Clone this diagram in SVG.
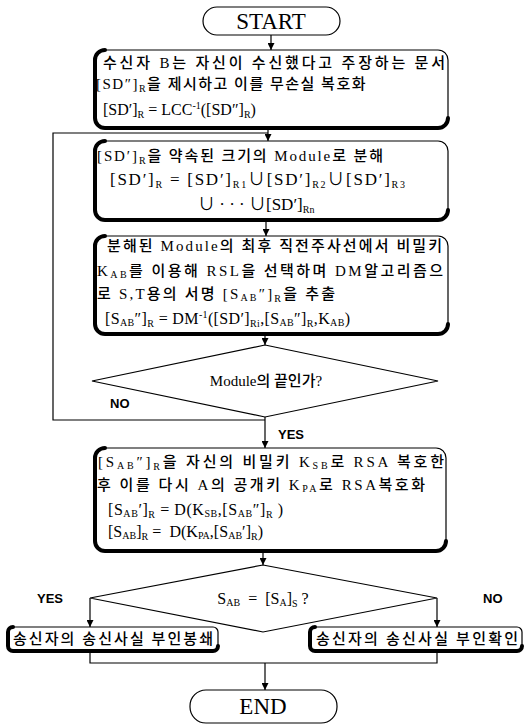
<svg xmlns="http://www.w3.org/2000/svg" width="531" height="726" viewBox="0 0 531 726">
<style>
.bx{fill:#fff;stroke:#000;stroke-width:1.2}
.th{fill:none;stroke:#000;stroke-width:4;stroke-linecap:round}
.t{font-family:"Liberation Serif","Noto Sans CJK KR",serif;font-size:15px;fill:#000}
.k{font-weight:500}
.f{font-size:16px}
.f2{font-size:17px}
.s{font-size:10px}
.c{text-anchor:middle}
.big{font-family:"Liberation Serif",serif;font-size:23px;text-anchor:middle}
.lb{font-family:"Liberation Sans",sans-serif;font-weight:bold;font-size:13px}
.ln{fill:none;stroke:#000;stroke-width:1.2}
</style>
<defs>
<marker id="a" viewBox="0 0 10 10" refX="10" refY="5" markerWidth="8" markerHeight="7" orient="auto" markerUnits="userSpaceOnUse"><path d="M0,0 L10,5 L0,10 z" fill="#000"/></marker>
</defs>

<g id="connectors" class="ln">
<path d="M271,35 V50" marker-end="url(#a)"/>
<path d="M268,128 V141" marker-end="url(#a)"/>
<path d="M265,420 H53 V133 H268"/>
<path d="M266,220 V236" marker-end="url(#a)"/>
<path d="M265,334 V345" marker-end="url(#a)"/>
<path d="M265,417 V448" marker-end="url(#a)"/>
<path d="M263,551 V565" marker-end="url(#a)"/>
<path d="M90,598 V627" marker-end="url(#a)"/>
<path d="M437,598 V627" marker-end="url(#a)"/>
<path d="M90,651 V663 H437 V651"/>
<path d="M265,663 V690" marker-end="url(#a)"/>
</g>

<g id="start">
<rect class="bx" x="203" y="7" width="137" height="28" rx="14"/>
<text class="big" x="271" y="29">START</text>
</g>

<g id="box1">
<rect class="bx" x="95" y="50" width="353" height="78" rx="10"/>
<path class="th" d="M105,50 A10,10 0 0 0 95,60 V118 A10,10 0 0 0 105,128 H438 A10,10 0 0 0 448,118"/>
<text class="t k" x="103" y="68" textLength="342">수신자 B는 자신이 수신했다고 주장하는 문서</text>
<text class="t k" x="96" y="89" letter-spacing="1.5">[SD″]<tspan class="s" dy="3">R</tspan><tspan dy="-3">을 제시하고 이를 무손실 복호화</tspan></text>
<text class="t f" x="103" y="115">[SD′]<tspan class="s" dy="3">R</tspan><tspan dy="-3">&#160;=&#160;LCC</tspan><tspan class="s" dy="-6">-1</tspan><tspan dy="6">([SD″]</tspan><tspan class="s" dy="3">R</tspan><tspan dy="-3">)</tspan></text>
</g>

<g id="box2">
<rect class="bx" x="95" y="141" width="353" height="79" rx="10"/>
<path class="th" d="M105,141 A10,10 0 0 0 95,151 V210 A10,10 0 0 0 105,220 H438 A10,10 0 0 0 448,210"/>
<text class="t k" x="97" y="161" textLength="286">[SD′]<tspan class="s" dy="3">R</tspan><tspan dy="-3">을 약속된 크기의 Module로 분해</tspan></text>
<text class="t f2" x="110" y="185" textLength="295">[SD′]<tspan class="s" dy="3">R</tspan><tspan dy="-3">&#160;=&#160;[SD′]</tspan><tspan class="s" dy="3">R1</tspan><tspan dy="-3">∪[SD′]</tspan><tspan class="s" dy="3">R2</tspan><tspan dy="-3">∪[SD′]</tspan><tspan class="s" dy="3">R3</tspan></text>
<text class="t f2" x="198" y="210">∪ · · · ∪[SD′]<tspan class="s" dy="3">Rn</tspan></text>
</g>

<g id="box3">
<rect class="bx" x="95" y="236" width="353" height="98" rx="10"/>
<path class="th" d="M105,236 A10,10 0 0 0 95,246 V324 A10,10 0 0 0 105,334 H438 A10,10 0 0 0 448,324"/>
<text class="t k" x="107" y="251" textLength="335">분해된 Module의 최후 직전주사선에서 비밀키</text>
<text class="t k" x="97" y="276" textLength="346">K<tspan class="s" dy="2">AB</tspan><tspan dy="-2">를 이용해 RSL을 선택하며 DM알고리즘으</tspan></text>
<text class="t k" x="97" y="299" textLength="238">로 S,T용의 서명 [S<tspan class="s" dy="2">AB</tspan><tspan dy="-2">″]</tspan><tspan class="s" dy="3">R</tspan><tspan dy="-3">을 추출</tspan></text>
<text class="t f" x="105" y="324" textLength="245">[S<tspan class="s" dy="2">AB</tspan><tspan dy="-2">″]</tspan><tspan class="s" dy="3">R</tspan><tspan dy="-3">&#160;=&#160;DM</tspan><tspan class="s" dy="-6">-1</tspan><tspan dy="6">([SD′]</tspan><tspan class="s" dy="3">Ri</tspan><tspan dy="-3">,[S</tspan><tspan class="s" dy="2">AB</tspan><tspan dy="-2">″]</tspan><tspan class="s" dy="3">R</tspan><tspan dy="-3">,K</tspan><tspan class="s" dy="2">AB</tspan><tspan dy="-2">)</tspan></text>
</g>

<g id="decision1">
<path class="bx" d="M265,345 L438,381 L265,417 L92,381 Z"/>
<text class="t k c" x="266" y="386">Module의 끝인가?</text>
<text class="lb" x="110" y="408">NO</text>
<text class="lb" x="278" y="439">YES</text>
</g>

<g id="box4">
<rect class="bx" x="95" y="448" width="351" height="103" rx="10"/>
<path class="th" d="M105,448 A10,10 0 0 0 95,458 V541 A10,10 0 0 0 105,551 H436 A10,10 0 0 0 446,541"/>
<text class="t k" x="98" y="467" textLength="346">[S<tspan class="s" dy="2">AB</tspan><tspan dy="-2">″]</tspan><tspan class="s" dy="3">R</tspan><tspan dy="-3">을 자신의 비밀키 K</tspan><tspan class="s" dy="2">SB</tspan><tspan dy="-2">로 RSA 복호한</tspan></text>
<text class="t k" x="97" y="490" textLength="328">후 이를 다시 A의 공개키 K<tspan class="s" dy="2">PA</tspan><tspan dy="-2">로 RSA복호화</tspan></text>
<text class="t f" x="108" y="515" textLength="175">[S<tspan class="s" dy="2">AB</tspan><tspan dy="-2">′]</tspan><tspan class="s" dy="3">R</tspan><tspan dy="-3">&#160;=&#160;D(K</tspan><tspan class="s" dy="2">SB</tspan><tspan dy="-2">,[S</tspan><tspan class="s" dy="2">AB</tspan><tspan dy="-2">″]</tspan><tspan class="s" dy="3">R</tspan><tspan dy="-3">&#160;)</tspan></text>
<text class="t f" x="108" y="537" textLength="155">[S<tspan class="s" dy="2">AB</tspan><tspan dy="-2">]</tspan><tspan class="s" dy="3">R</tspan><tspan dy="-3">&#160;=&#160;&#160;D(K</tspan><tspan class="s" dy="2">PA</tspan><tspan dy="-2">,[S</tspan><tspan class="s" dy="2">AB</tspan><tspan dy="-2">′]</tspan><tspan class="s" dy="3">R</tspan><tspan dy="-3">)</tspan></text>
</g>

<g id="decision2">
<path class="bx" d="M263,565 L437,598 L263,632 L90,598 Z"/>
<text class="t f c" x="263" y="604">S<tspan class="s" dy="2">AB</tspan><tspan dy="-2">&#160;&#160;=&#160;&#160;[S</tspan><tspan class="s" dy="2">A</tspan><tspan dy="-2">]</tspan><tspan class="s" dy="3">S</tspan><tspan dy="-3">&#160;?</tspan></text>
<text class="lb" x="37" y="603">YES</text>
<text class="lb" x="483" y="603">NO</text>
</g>

<g id="box5">
<rect class="bx" x="8" y="627" width="210" height="24" rx="5"/>
<path class="th" d="M13,627 A5,5 0 0 0 8,632 V646 A5,5 0 0 0 13,651 H213 A5,5 0 0 0 218,646"/>
<text class="t k" x="13" y="644" textLength="200">송신자의 송신사실 부인봉쇄</text>
</g>

<g id="box6">
<rect class="bx" x="310" y="627" width="212" height="24" rx="5"/>
<path class="th" d="M315,627 A5,5 0 0 0 310,632 V646 A5,5 0 0 0 315,651 H517 A5,5 0 0 0 522,646"/>
<text class="t k" x="316" y="644" textLength="202">송신자의 송신사실 부인확인</text>
</g>

<g id="end">
<rect class="bx" x="190" y="690" width="147" height="33" rx="16"/>
<text class="big" x="263" y="714">END</text>
</g>
</svg>
